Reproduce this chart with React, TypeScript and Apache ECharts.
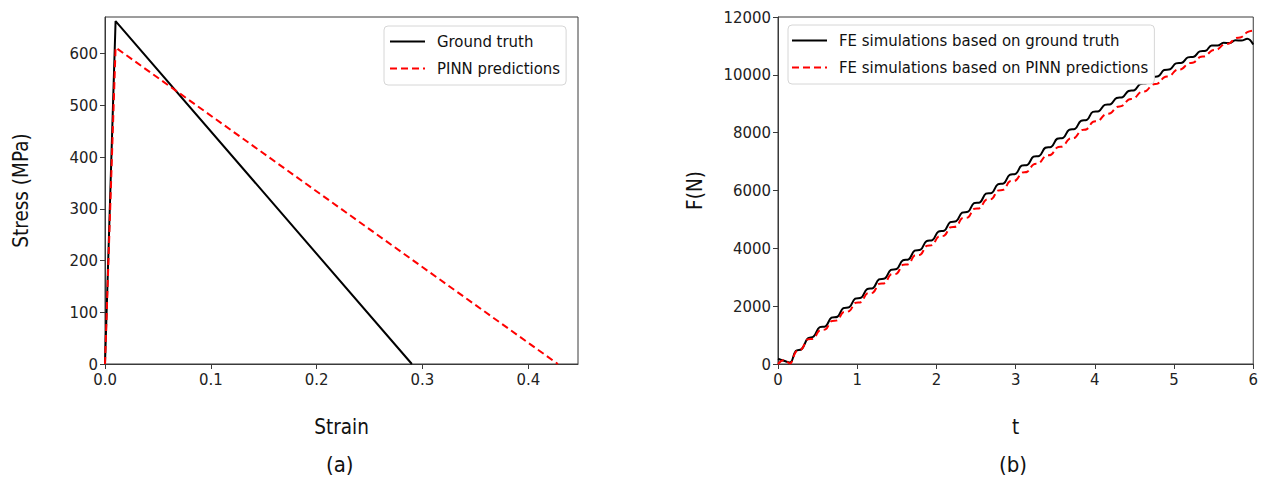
import React, { useEffect, useRef } from "react";
import * as echarts from "echarts";

const strainTicks = [0, 0.1, 0.2, 0.3, 0.4];
const stressTicks = [0, 100, 200, 300, 400, 500, 600];
const timeTicks = [0, 1, 2, 3, 4, 5, 6];
const forceTicks = [0, 2000, 4000, 6000, 8000, 10000, 12000];

const groundTruthStrain = [0, 0.01, 0.29];
const groundTruthStress = [0, 663, 0];
const pinnStrain = [0, 0.01, 0.428];
const pinnStress = [0, 612, 0];

const timeValues = [
  0, 0.075, 0.15, 0.225, 0.3, 0.375, 0.45, 0.525, 0.6, 0.675, 0.75, 0.825, 0.9, 0.975,
  1.05, 1.125, 1.2, 1.275, 1.35, 1.425, 1.5, 1.575, 1.65, 1.725, 1.8, 1.875, 1.95,
  2.025, 2.1, 2.175, 2.25, 2.325, 2.4, 2.475, 2.55, 2.625, 2.7, 2.775, 2.85, 2.925,
  3.0, 3.075, 3.15, 3.225, 3.3, 3.375, 3.45, 3.525, 3.6, 3.675, 3.75, 3.825, 3.9, 3.975,
  4.05, 4.125, 4.2, 4.275, 4.35, 4.425, 4.5, 4.575, 4.65, 4.725, 4.8, 4.875, 4.95,
  5.025, 5.1, 5.175, 5.25, 5.325, 5.4, 5.475, 5.55, 5.625, 5.7, 5.775, 5.85, 5.925, 6.0,
];

const forceGroundTruth = [
  180, 110, 50, 450, 520, 880, 950, 1271, 1304, 1601, 1634, 1931, 1964, 2261,
  2295, 2592, 2626, 2924, 2958, 3255, 3289, 3587, 3621, 3918, 3952, 4250, 4284,
  4580, 4612, 4907, 4939, 5234, 5266, 5561, 5593, 5888, 5920, 6215, 6247, 6542,
  6574, 6857, 6889, 7168, 7199, 7478, 7510, 7789, 7820, 8099, 8131, 8410, 8441, 8720,
  8742, 8959, 8984, 9201, 9225, 9442, 9467, 9684, 9708, 9925, 9950, 10167, 10191,
  10396, 10417, 10603, 10624, 10810, 10831, 11017, 11014, 11107, 11100, 11193, 11186, 11250, 11050,
];

const forcePinn = [
  0, 140, 20, 420, 520, 850, 882, 1166, 1197, 1481, 1512, 1796, 1827, 2111,
  2144, 2440, 2472, 2768, 2801, 3097, 3129, 3425, 3458, 3754, 3786, 4082, 4115,
  4407, 4438, 4725, 4756, 5043, 5074, 5361, 5392, 5679, 5710, 5997, 6028, 6315,
  6346, 6607, 6654, 6901, 6948, 7195, 7242, 7489, 7536, 7783, 7830, 8077, 8124, 8371,
  8416, 8625, 8674, 8883, 8932, 9141, 9190, 9399, 9448, 9657, 9706, 9915, 9964,
  10163, 10205, 10388, 10430, 10613, 10655, 10838, 10878, 11051, 11091, 11264, 11304, 11477, 11530,
];

const FONT = "DejaVu Sans Condensed";
const FRAME = "#3a3a3a";
const SOLID_ICON = "path://M0,0H35V2H0Z";
const DASH_ICON = "path://M0,0H7V2H0Z M11,0H18V2H11Z M22,0H29V2H22Z M33,0H35V2H33Z";

function axisCommon(extra: any) {
  return {
    type: "value",
    splitLine: { show: false },
    axisLine: { show: true, onZero: false, lineStyle: { color: FRAME, width: 1 } },
    nameTextStyle: { fontFamily: FONT, fontSize: 20.5, color: "#111" },
    ...extra,
  };
}

function tickStyle(values: number[]) {
  return { show: true, length: 5, customValues: values, lineStyle: { color: FRAME } };
}

function labelStyle(values: number[], formatter: (v: number) => string, margin: number) {
  return {
    customValues: values,
    formatter,
    fontFamily: FONT,
    fontSize: 16.6,
    color: "#222",
    margin,
  };
}

export default function App() {
  const ref = useRef<HTMLDivElement>(null);
  useEffect(() => {
    if (!ref.current) return;
    const chart = echarts.init(ref.current, null, { renderer: "svg" });
    const legendCommon = {
      orient: "vertical",
      backgroundColor: "#fff",
      borderColor: "#d6d6d6",
      borderWidth: 1,
      borderRadius: 4,
      itemWidth: 35,
      itemHeight: 14,
      itemGap: 10,
      textStyle: { fontFamily: FONT, fontSize: 16.6, color: "#111", lineHeight: 16, padding: [0, 0, 0, 7] },
    };
    chart.setOption({
      animation: false,
      backgroundColor: "#fff",
      grid: [
        { left: 105, top: 17, width: 473, height: 347, show: true, borderColor: FRAME, borderWidth: 1 },
        { left: 778, top: 17, width: 476, height: 347, show: true, borderColor: FRAME, borderWidth: 1 },
      ],
      xAxis: [
        axisCommon({
          gridIndex: 0,
          min: 0,
          max: 0.447,
          name: "Strain",
          nameLocation: "middle",
          nameGap: 52,
          axisTick: tickStyle(strainTicks),
          axisLabel: labelStyle(strainTicks, (v: number) => v.toFixed(1), 7),
        }),
        axisCommon({
          gridIndex: 1,
          min: 0,
          max: 6,
          name: "t",
          nameLocation: "middle",
          nameGap: 52,
          axisTick: tickStyle(timeTicks),
          axisLabel: labelStyle(timeTicks, (v: number) => String(v), 7),
        }),
      ],
      yAxis: [
        axisCommon({
          gridIndex: 0,
          min: 0,
          max: 671,
          name: "Stress (MPa)",
          nameLocation: "middle",
          nameRotate: 90,
          nameGap: 74,
          axisTick: tickStyle(stressTicks),
          axisLabel: labelStyle(stressTicks, (v: number) => String(v), 7),
        }),
        axisCommon({
          gridIndex: 1,
          min: 0,
          max: 12000,
          name: "F(N)",
          nameLocation: "middle",
          nameRotate: 90,
          nameGap: 73,
          axisTick: tickStyle(forceTicks),
          axisLabel: labelStyle(forceTicks, (v: number) => String(v), 7),
        }),
      ],
      legend: [
        {
          ...legendCommon,
          left: 384,
          top: 26,
          padding: [7, 6, 8, 6],
          data: [
            { name: "Ground truth", icon: SOLID_ICON },
            { name: "PINN predictions", icon: DASH_ICON },
          ],
        },
        {
          ...legendCommon,
          left: 788,
          top: 25,
          padding: [7, 6, 8, 4],
          data: [
            { name: "FE simulations based on ground truth", icon: SOLID_ICON },
            { name: "FE simulations based on PINN predictions", icon: DASH_ICON },
          ],
        },
      ],
      graphic: [
        {
          type: "text",
          left: 326,
          top: 453,
          style: { text: "(a)", fontFamily: FONT, fontSize: 22, fill: "#111" },
        },
        {
          type: "text",
          left: 999,
          top: 453,
          style: { text: "(b)", fontFamily: FONT, fontSize: 22, fill: "#111" },
        },
      ],
      series: [
        {
          name: "Ground truth",
          type: "line",
          xAxisIndex: 0,
          yAxisIndex: 0,
          symbol: "none",
          lineStyle: { color: "#000", width: 2 },
          itemStyle: { color: "#000" },
          data: groundTruthStrain.map((x, i) => [x, groundTruthStress[i]]),
        },
        {
          name: "PINN predictions",
          type: "line",
          xAxisIndex: 0,
          yAxisIndex: 0,
          symbol: "none",
          lineStyle: { color: "#ff0000", width: 2, type: [7, 4] },
          itemStyle: { color: "#ff0000" },
          data: pinnStrain.map((x, i) => [x, pinnStress[i]]),
        },
        {
          name: "FE simulations based on ground truth",
          type: "line",
          xAxisIndex: 1,
          yAxisIndex: 1,
          symbol: "none",
          smooth: 0.4,
          lineStyle: { color: "#000", width: 2 },
          itemStyle: { color: "#000" },
          data: timeValues.map((t, i) => [t, forceGroundTruth[i]]),
        },
        {
          name: "FE simulations based on PINN predictions",
          type: "line",
          xAxisIndex: 1,
          yAxisIndex: 1,
          symbol: "none",
          smooth: 0.4,
          lineStyle: { color: "#ff0000", width: 2, type: [7, 4] },
          itemStyle: { color: "#ff0000" },
          data: timeValues.map((t, i) => [t, forcePinn[i]]),
        },
      ],
    });
    return () => chart.dispose();
  }, []);
  return <div ref={ref} style={{ position: "fixed", left: 0, top: 0, width: 1261, height: 481 }} />;
}
